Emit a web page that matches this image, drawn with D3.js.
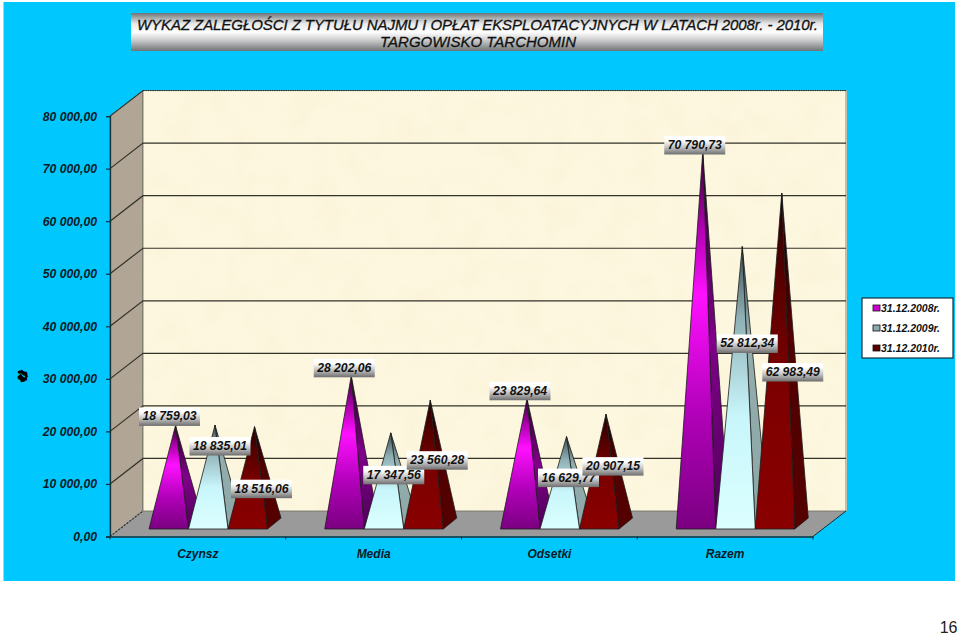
<!DOCTYPE html>
<html><head><meta charset="utf-8">
<script src="https://cdn.jsdelivr.net/npm/d3@7"></script>
<style>
html,body{margin:0;padding:0;background:#fff;overflow:hidden}
svg{display:block}
text{font-family:"Liberation Sans",Arial,sans-serif}
.it{font-style:italic;font-weight:bold;fill:#0c1a26}
</style></head><body>
<svg id="c" width="960" height="636"></svg>
<script>
const categories = ["Czynsz","Media","Odsetki","Razem"];
const seriesNames = ["31.12.2008r.","31.12.2009r.","31.12.2010r."];
const values2008 = [18759.03,28202.06,23829.64,70790.73];
const values2009 = [18835.01,17347.56,16629.77,52812.34];
const values2010 = [18516.06,23560.28,20907.15,62983.49];
const yTicks = [0,10000,20000,30000,40000,50000,60000,70000,80000];
const titleLines = ["WYKAZ ZALEGŁOŚCI Z TYTUŁU NAJMU I OPŁAT EKSPLOATACYJNYCH W LATACH 2008r. - 2010r.","TARGOWISKO TARCHOMIN"];
const allValues = [values2008,values2009,values2010];
// hand-placed data label offsets from the apex (dx,dy), per series then category
const labelNudge = [
 [[-6,-9],[-7,-8],[-7,-8],[-8,-7]],
 [[5,21],[3,42],[2,41],[5,97]],
 [[7,62],[7,60],[7,52],[11,179]]
];
const fmt = v => { const [a,b]=v.toFixed(2).split("."); return a.replace(/\B(?=(\d{3})+$)/g," ")+","+b; };

const svg = d3.select("#c");
const defs = svg.append("defs");
function grad(id,stops,x2=0,y2=0,x1=0,y1=1){
  const g=defs.append("linearGradient").attr("id",id).attr("x1",x1).attr("y1",y1).attr("x2",x2).attr("y2",y2);
  stops.forEach(s=>g.append("stop").attr("offset",s[0]).attr("stop-color",s[1]));
}
grad("f0",[[0,"#7a0080"],[0.3,"#b000b8"],[0.62,"#ff10ff"],[0.8,"#b000b0"],[1,"#300030"]]);
grad("s0",[[0,"#4e0058"],[0.5,"#80008a"],[1,"#280028"]]);
grad("f1",[[0,"#dcffff"],[0.4,"#c8f6fb"],[0.75,"#8fb0b4"],[1,"#3d5055"]]);
grad("s1",[[0,"#8ea6a6"],[0.7,"#93adad"],[1,"#32454a"]]);
grad("f2",[[0,"#8a0000"],[0.45,"#7c0000"],[0.75,"#560000"],[1,"#200000"]]);
grad("s2",[[0,"#560000"],[0.6,"#500000"],[1,"#180000"]]);
grad("lab",[[0,"#6e6e6e"],[0.4,"#c4c4c4"],[0.75,"#ffffff"],[1,"#ffffff"]]);
grad("ttl",[[0,"#6f7476"],[0.3,"#d0d0d0"],[0.5,"#ffffff"],[0.72,"#e8e8e8"],[1,"#6f7476"]]);
const tex=defs.append("filter").attr("id","tex").attr("x",0).attr("y",0).attr("width",1).attr("height",1);
tex.append("feTurbulence").attr("type","fractalNoise").attr("baseFrequency",0.035).attr("numOctaves",3).attr("seed",4);
tex.append("feColorMatrix").attr("type","matrix").attr("values","0 0 0 0 0.80  0 0 0 0 0.70  0 0 0 0 0.45  1.0 0 0 0 -0.42");

// page + panel
svg.append("rect").attr("x",3.5).attr("y",2).attr("width",951.5).attr("height",579).attr("fill","#00c8ff");
svg.append("text").attr("x",957.5).attr("y",632.5).attr("text-anchor","end").attr("font-size",16).attr("fill","#222").text("16");

// title
svg.append("rect").attr("x",131).attr("y",13).attr("width",692).attr("height",38).attr("fill","url(#ttl)");
svg.selectAll(".t").data(titleLines).join("text").attr("x",(d,i)=>i?478:477.5).attr("y",(d,i)=>30+i*17)
  .attr("text-anchor","middle").attr("font-size",15).attr("fill","#111").attr("stroke","#111").attr("stroke-width",0.3)
  .attr("font-style","italic")
  .attr("textLength",(d,i)=>i?196:681).attr("lengthAdjust","spacing").text(d=>d);

// scales
const frontBottom=536.5, unit=52.55/10000;
const yFront=d3.scaleLinear().domain([0,80000]).range([frontBottom,frontBottom-80000*unit]);
const depthX=33, depthY=25.5;
const yBase=d3.scaleLinear().domain([0,80000]).range([524,524-80000*unit]);
const x0=d3.scaleBand().domain(categories).range([110,813]);
const x1=d3.scaleBand().domain([0,1,2]).range([39,157.5]);
const left=110,right=813;

// walls
svg.append("polygon").attr("points",[[left,yFront(0)],[left+depthX,yFront(0)-depthY],[left+depthX,yFront(80000)-depthY],[left,yFront(80000)]].join(" ")).attr("fill","#b1a595").attr("stroke","#3a4a50").attr("stroke-width",0.6);
svg.append("rect").attr("x",left+depthX).attr("y",yFront(80000)-depthY).attr("width",right-left+1).attr("height",yFront(0)-yFront(80000)).attr("fill","#fdf7df");
svg.append("rect").attr("x",left+depthX).attr("y",yFront(80000)-depthY).attr("width",right-left+1).attr("height",yFront(0)-yFront(80000)).attr("filter","url(#tex)").attr("opacity",0.22);
svg.append("polygon").attr("points",[[left,yFront(0)],[left+depthX,yFront(0)-depthY],[right+depthX,yFront(0)-depthY],[right,yFront(0)]].join(" ")).attr("fill","#9a9a9a");
svg.append("rect").attr("x",left+depthX).attr("y",yFront(80000)-depthY).attr("width",right-left).attr("height",yFront(0)-yFront(80000)).attr("fill","none").attr("stroke","#6b6b5a").attr("stroke-width",0.8);
svg.append("line").attr("x1",left+depthX).attr("x2",right+depthX).attr("y1",yFront(80000)-depthY).attr("y2",yFront(80000)-depthY).attr("stroke","#1a2a30").attr("stroke-width",1).attr("stroke-dasharray","1.5 0.8");

// gridlines
const grid=svg.append("g").attr("fill","none").attr("stroke","#33332a").attr("stroke-width",1.2);
yTicks.forEach(t=>{
  grid.append("path").attr("d",d3.line()([[left,yFront(t)],[left+depthX,yFront(t)-depthY]].concat(t>0&&t<80000?[[right+depthX,yFront(t)-depthY]]:[])))
    .attr("stroke-dasharray",t===0?"2 1.5":null);
});
svg.append("path").attr("d",d3.line()([[right,yFront(0)],[right+depthX,yFront(0)-depthY]])).attr("fill","none").attr("stroke","#12303a").attr("stroke-width",1);

// pyramids
const w=x1.bandwidth(), baseY=529, sideX=13.5, sideY=11;
allValues.forEach((vals,s)=>{
  const g=svg.append("g").attr("stroke","#1c1c1c").attr("stroke-width",0.8).attr("stroke-linejoin","round");
  vals.forEach((v,c)=>{
    const L=x0(categories[c])+x1(s), R=L+w, apexX=(L+R+sideX)/2, apexY=yBase(v);
    g.append("polygon").attr("points",[[R,baseY],[R+sideX,baseY-sideY],[apexX,apexY]].join(" ")).attr("fill",`url(#s${s})`);
    g.append("polygon").attr("points",[[L,baseY],[R,baseY],[apexX,apexY]].join(" ")).attr("fill",`url(#f${s})`);
  });
});

// axes
const axisY=d3.axisLeft(yFront).tickValues(yTicks).tickSize(4).tickFormat(fmt);
const ay=svg.append("g").attr("transform",`translate(${left},0)`).call(axisY);
ay.select(".domain").attr("stroke","#12303a").attr("stroke-width",1.3);
ay.selectAll("line").attr("stroke","#12303a").attr("stroke-width",1.2);
ay.selectAll("text").attr("class","it").attr("x",-13).attr("font-size",12.2).style("font-family",'"Liberation Sans"');
const axisX=d3.axisBottom(x0).tickSize(0);
const ax=svg.append("g").attr("transform",`translate(0,${frontBottom})`).call(axisX);
ax.select(".domain").attr("stroke","#12303a").attr("stroke-width",1.3);
ax.selectAll("text").attr("class","it").attr("y",13).attr("dy",".71em").attr("font-size",12).style("font-family",'"Liberation Sans"');
d3.range(0,5).forEach(i=>ax.append("line").attr("x1",left+i*x0.step()).attr("x2",left+i*x0.step()).attr("y1",0).attr("y2",3).attr("stroke","#12303a"));

// y title (an overprinted, garbled block in the original)
const yt=svg.append("g").attr("transform","translate(22,376)");
[-90,-75,-60,-40].forEach(r=>yt.append("text").attr("transform",`rotate(${r})`).attr("text-anchor","middle").attr("dy",4.5).attr("font-size",13).attr("font-weight","bold").attr("fill","#000").text("zł"));

// data labels
allValues.forEach((vals,s)=>vals.forEach((v,c)=>{
  const L=x0(categories[c])+x1(s), apexX=L+(w+sideX)/2, apexY=yBase(v);
  const [dx,dy]=labelNudge[s][c], cx=apexX+dx, cy=apexY+dy;
  const g=svg.append("g").attr("transform",`translate(${cx},${cy})`);
  g.append("rect").attr("x",-30.5).attr("y",-9).attr("width",61).attr("height",18.5).attr("fill","url(#lab)");
  g.append("text").attr("text-anchor","middle").attr("y",4).attr("font-size",12.2).attr("class","it").attr("style","fill:#111").text(fmt(v));
}));

// legend
const lg=svg.append("g").attr("transform","translate(862,298)");
lg.append("rect").attr("width",91).attr("height",60).attr("fill","#fff").attr("stroke","#12303a").attr("stroke-width",1.2);
const legColors=["#d000d0","#8fa9a9","#5a0000"];
seriesNames.forEach((n,i)=>{
  const g=lg.append("g").attr("transform",`translate(0,${10+i*20})`);
  g.append("rect").attr("x",11).attr("y",-3).attr("width",7).attr("height",6).attr("fill",legColors[i]).attr("stroke","#111").attr("stroke-width",0.8);
  g.append("text").attr("x",19).attr("y",4).attr("font-size",10.5).attr("class","it").attr("style","fill:#111").text(n);
});
</script></body></html>
